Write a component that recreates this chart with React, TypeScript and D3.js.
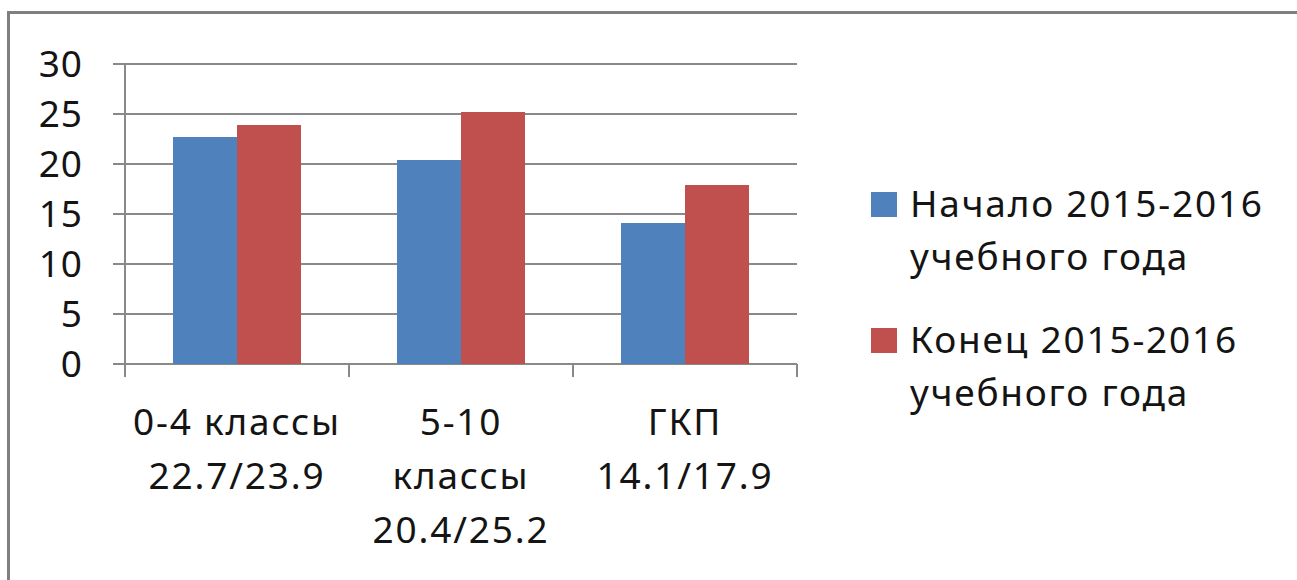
import React, { useRef, useEffect } from "react";
import * as d3 from "d3";

const categories = ["0-4 классы", "5-10 классы", "ГКП"];
const categoryLines = [
  ["0-4 классы", "22.7/23.9"],
  ["5-10", "классы", "20.4/25.2"],
  ["ГКП", "14.1/17.9"],
];
const seriesNames = ["Начало 2015-2016 учебного года", "Конец 2015-2016 учебного года"];
const legendLines = [
  ["Начало 2015-2016", "учебного года"],
  ["Конец 2015-2016", "учебного года"],
];
const startValues = [22.7, 20.4, 14.1];
const endValues = [23.9, 25.2, 17.9];
const yTicks = [0, 5, 10, 15, 20, 25, 30];
const colors = ["#4F81BD", "#C0504D"];

const App = () => {
  const svgRef = useRef<SVGSVGElement>(null);

  useEffect(() => {
    const svg = d3.select(svgRef.current);
    const width = 1297;
    const height = 580;
    const margin = { top: 64, right: 500, bottom: 216, left: 125 };
    const font = "'Noto Sans', sans-serif";
    const ink = "#141414";

    svg.attr("width", width).attr("height", height);
    svg.selectAll("*").remove();

    svg.append("rect").attr("width", width).attr("height", height).attr("fill", "#fff");

    // outer frame (runs off the right and bottom edges)
    svg
      .append("rect")
      .attr("x", 8.5)
      .attr("y", 12.5)
      .attr("width", width + 20)
      .attr("height", height + 20)
      .attr("fill", "none")
      .attr("stroke", "#7f7f7f")
      .attr("stroke-width", 3);

    const x = d3
      .scaleBand()
      .domain(categories)
      .range([margin.left, width - margin.right]);

    const xInner = d3
      .scaleBand()
      .domain(seriesNames)
      .range([0, x.bandwidth()])
      .paddingOuter(0.75)
      .paddingInner(0);

    const y = d3
      .scaleLinear()
      .domain([0, 30])
      .range([height - margin.bottom, margin.top]);

    const grid = "#898989";

    // gridlines
    svg
      .append("g")
      .selectAll("line")
      .data(yTicks)
      .join("line")
      .attr("x1", margin.left - 12)
      .attr("x2", width - margin.right)
      .attr("y1", (d) => y(d))
      .attr("y2", (d) => y(d))
      .attr("stroke", grid)
      .attr("stroke-width", 2);

    // y axis line
    svg
      .append("line")
      .attr("x1", margin.left)
      .attr("x2", margin.left)
      .attr("y1", y(30))
      .attr("y2", y(0))
      .attr("stroke", grid)
      .attr("stroke-width", 2);

    // category ticks
    const bounds = [...categories.map((c) => x(c)!), width - margin.right];
    svg
      .append("g")
      .selectAll("line")
      .data(bounds)
      .join("line")
      .attr("x1", (d) => d)
      .attr("x2", (d) => d)
      .attr("y1", y(0))
      .attr("y2", y(0) + 13)
      .attr("stroke", grid)
      .attr("stroke-width", 2);

    // bars
    const rows = categories.map((c, i) => ({ c, vals: [startValues[i], endValues[i]] }));
    const groups = svg
      .append("g")
      .selectAll("g")
      .data(rows)
      .join("g")
      .attr("transform", (d) => `translate(${x(d.c)},0)`);

    groups
      .selectAll("rect")
      .data((d) => d.vals.map((v, j) => ({ v, s: seriesNames[j], j })))
      .join("rect")
      .attr("x", (d) => xInner(d.s)!)
      .attr("width", xInner.bandwidth())
      .attr("y", (d) => y(d.v))
      .attr("height", (d) => y(0) - y(d.v))
      .attr("fill", (d) => colors[d.j]);

    // y labels
    svg
      .append("g")
      .selectAll("text")
      .data(yTicks)
      .join("text")
      .attr("x", margin.left - 42)
      .attr("y", (d) => y(d))
      .attr("dy", "0.36em")
      .attr("text-anchor", "end")
      .attr("font-family", font)
      .attr("font-size", 37)
      .attr("letter-spacing", 1)
      .attr("fill", ink)
      .text((d) => d);

    // category labels
    const catLabels = svg
      .append("g")
      .selectAll("text")
      .data(categories)
      .join("text")
      .attr("x", (d) => x(d)! + x.bandwidth() / 2)
      .attr("y", 435)
      .attr("text-anchor", "middle")
      .attr("font-family", font)
      .attr("font-size", 37)
      .attr("letter-spacing", 1.8)
      .attr("fill", ink);

    catLabels
      .selectAll("tspan")
      .data((d, i) => categoryLines[i].map((l, k) => ({ l, k, cx: x(d)! + x.bandwidth() / 2 })))
      .join("tspan")
      .attr("x", (d) => d.cx)
      .attr("dy", (d) => (d.k === 0 ? 0 : 54))
      .text((d) => d.l);

    // legend
    const legend = svg
      .append("g")
      .selectAll("g")
      .data(seriesNames)
      .join("g")
      .attr("transform", (d, i) => `translate(871,${192 + i * 136})`);

    legend
      .append("rect")
      .attr("width", 26)
      .attr("height", 25)
      .attr("fill", (d, i) => colors[i]);

    const legendText = legend
      .append("text")
      .attr("x", 39)
      .attr("y", 25)
      .attr("font-family", font)
      .attr("font-size", 37)
      .attr("letter-spacing", 1.8)
      .attr("fill", ink);

    legendText
      .selectAll("tspan")
      .data((d, i) => legendLines[i].map((l, k) => ({ l, k })))
      .join("tspan")
      .attr("x", 39)
      .attr("dy", (d) => (d.k === 0 ? 0 : 53))
      .text((d) => d.l);
  }, []);

  return (
    <div style={{ position: "absolute", left: 0, top: 0 }}>
      <svg ref={svgRef} style={{ display: "block" }}></svg>
    </div>
  );
};

export default App;
